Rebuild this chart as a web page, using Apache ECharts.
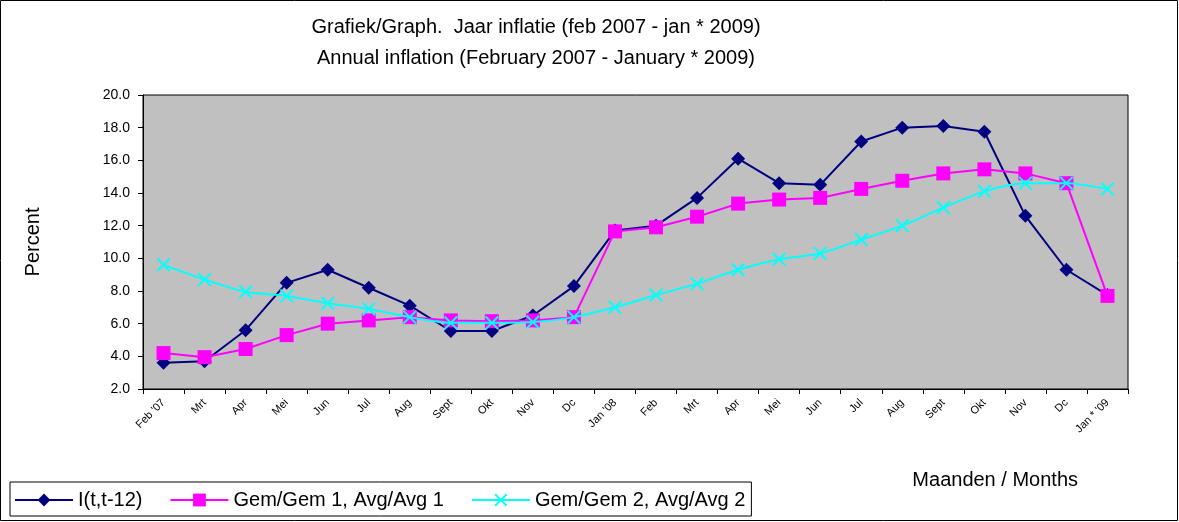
<!DOCTYPE html>
<html><head><meta charset="utf-8">
<script src="https://cdn.jsdelivr.net/npm/echarts@6/dist/echarts.min.js"></script>
<style>html,body{margin:0;padding:0;background:#fff}#c{width:1179px;height:522px}</style>
</head><body><div id="c"></div>
<script>
var months = ["Feb '07","Mrt","Apr","Mei","Jun","Jul","Aug","Sept","Okt","Nov","Dc","Jan '08","Feb","Mrt","Apr","Mei","Jun","Jul","Aug","Sept","Okt","Nov","Dc","Jan * '09"];
var inflation = [3.6,3.7,5.6,8.5,9.3,8.2,7.1,5.55,5.55,6.5,8.3,11.7,12.0,13.7,16.1,14.6,14.5,17.15,18.0,18.1,17.75,12.6,9.3,7.75];
var avg1 = [4.2,3.95,4.45,5.3,6.0,6.2,6.4,6.2,6.15,6.2,6.4,11.65,11.9,12.55,13.35,13.6,13.7,14.25,14.75,15.2,15.45,15.2,14.6,7.7];
var avg2 = [9.6,8.7,7.95,7.7,7.25,6.9,6.4,6.05,6.05,6.1,6.4,7.0,7.75,8.45,9.3,9.95,10.3,11.15,12.0,13.1,14.1,14.6,14.6,14.25];
var yTicks = {min:2, max:20, interval:2};

var font = '"Liberation Sans", Arial, sans-serif';
var xPath = 'path://M0,1L1,0L5,4L9,0L10,1L6,5L10,9L9,10L5,6L1,10L0,9L4,5Z';
var chart = echarts.init(document.getElementById('c'));
chart.setOption({
  animation:false,
  backgroundColor:'#fff',
  title:{
    text:'Grafiek/Graph.  Jaar inflatie (feb 2007 - jan * 2009)\nAnnual inflation (February 2007 - January * 2009)',
    left:531, top:7, textAlign:'center',
    textStyle:{fontFamily:font, fontSize:20, fontWeight:'normal', color:'#000', lineHeight:31}
  },
  legend:{
    left:10, top:482, width:742, height:30,
    padding:[8,6,6,4],
    borderColor:'#000', borderWidth:1, borderRadius:0,
    itemWidth:58, itemHeight:16, itemGap:27,
    textStyle:{fontFamily:font, fontSize:20, color:'#000'},
    data:['I(t,t-12)','Gem/Gem 1, Avg/Avg 1','Gem/Gem 2, Avg/Avg 2']
  },
  grid:{left:143, right:51, top:95, bottom:133, outerBoundsMode:'none', containLabel:false, show:true, backgroundColor:'#c0c0c0', borderColor:'#000', borderWidth:1},
  xAxis:{
    type:'category', data:months, boundaryGap:true,
    axisLine:{lineStyle:{color:'#000', width:1}},
    axisTick:{show:true, alignWithLabel:false, length:5, lineStyle:{color:'#000'}},
    axisLabel:{interval:0, rotate:45, fontFamily:font, fontSize:11, color:'#000', margin:12},
    splitLine:{show:false}
  },
  yAxis:{
    type:'value', min:yTicks.min, max:yTicks.max, interval:yTicks.interval,
    name:'Percent', nameLocation:'middle', nameGap:100, nameRotate:90,
    nameTextStyle:{fontFamily:font, fontSize:20, color:'#000'},
    axisLine:{show:true, lineStyle:{color:'#000', width:1}},
    axisTick:{show:true, length:5, lineStyle:{color:'#000'}},
    axisLabel:{fontFamily:font, fontSize:14, color:'#000', margin:13, formatter:function(v){return v.toFixed(1);}},
    splitLine:{show:false}
  },
  graphic:[
    {type:'rect', shape:{x:0.5,y:0.5,width:1177,height:520}, style:{fill:null, stroke:'#000', lineWidth:1}, silent:true, z:-1},
    {type:'text', right:101, top:470, style:{text:'Maanden / Months', font:'20px "Liberation Sans", Arial, sans-serif', fill:'#000'}}
  ],
  series:[
    {name:'I(t,t-12)', type:'line', data:inflation, symbol:'diamond', symbolSize:14,
     lineStyle:{color:'#000080', width:2}, itemStyle:{color:'#000080'}, z:3},
    {name:'Gem/Gem 1, Avg/Avg 1', type:'line', data:avg1, symbol:'rect', symbolSize:14,
     lineStyle:{color:'#ff00ff', width:2}, itemStyle:{color:'#ff00ff'}, z:4},
    {name:'Gem/Gem 2, Avg/Avg 2', type:'line', data:avg2, symbol:xPath, symbolSize:14, smooth:0.25,
     lineStyle:{color:'#00ffff', width:2}, itemStyle:{color:'#00ffff'}, z:5}
  ]
});
</script></body></html>
